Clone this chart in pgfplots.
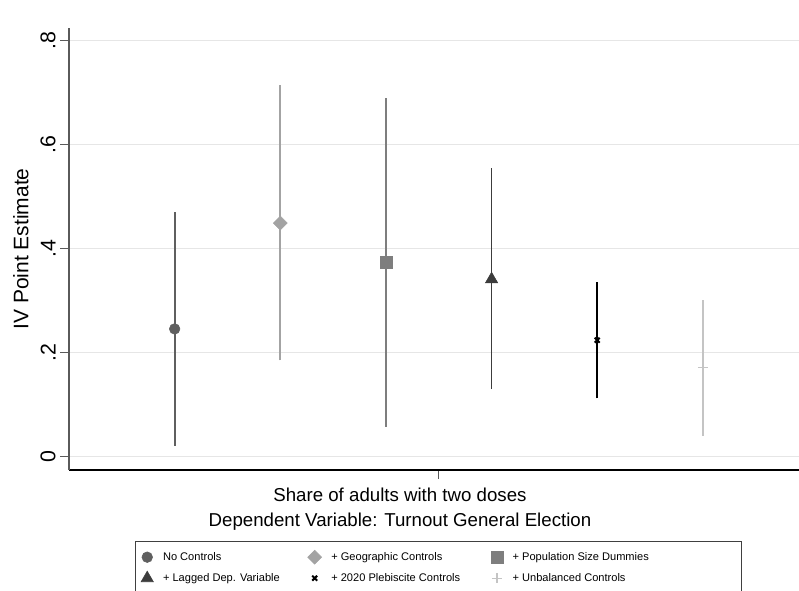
\documentclass[border=0pt]{standalone}
\usepackage{fontspec}
\setmainfont{Liberation Sans}
\usepackage{pgfplots}
\pgfplotsset{compat=1.18}
\definecolor{cA}{HTML}{5F5F5F}
\definecolor{cB}{HTML}{A3A3A3}
\definecolor{cC}{HTML}{7E7E7E}
\definecolor{cD}{HTML}{3C3C3C}
\definecolor{cE}{HTML}{000000}
\definecolor{cF}{HTML}{C4C4C4}
\definecolor{gridc}{HTML}{E6E6E6}
\definecolor{axc}{HTML}{5A5A5A}
\begin{document}
\begin{tikzpicture}
\useasboundingbox (-51.75pt,-90.75pt) rectangle (547.5pt,352.5pt);
\begin{axis}[
  scale only axis, width=547.5pt, height=331.5pt,
  xmin=0, xmax=6.91, ymin=-0.0256, ymax=0.824,
  axis x line*=bottom, axis y line*=left,
  x axis line style={-, black, line width=0.9pt},
  y axis line style={-, axc, line width=1pt},
  xtick={3.5}, xticklabels={},
  ytick={0,0.2,0.4,0.6,0.8}, yticklabels={0,.2,.4,.6,.8},
  tick align=outside, major tick length=6.5pt,
  every tick/.style={color=axc, line width=0.8pt},
  ymajorgrids, major grid style={color=gridc, line width=1pt},
  /pgf/number format/assume math mode=true,
  yticklabel style={rotate=90, anchor=south, font=\fontsize{16}{16}\selectfont},
  ylabel={IV Point Estimate},
  ylabel style={at={(axis description cs:-0.0658,0.5)}, anchor=center, font=\fontsize{15.75}{18}\selectfont},
  xlabel={Share of adults with two doses\\Dependent Variable: Turnout General Election},
  xlabel style={at={(axis description cs:0.4534,0)}, anchor=north, yshift=-10pt, align=center, font=\fontsize{14}{18.75}\selectfont},
  legend columns=3, legend cell align=left,
  legend style={at={(axis description cs:0.506,-0.1606)}, anchor=north, draw=black!75, line width=0.8pt,
    inner xsep=4.5pt, inner ysep=6pt,
    font=\fontsize{8.3}{10}\selectfont, row sep=4.25pt,
    /tikz/every odd column/.append style={column sep=5.25pt}},
]
% confidence intervals
\addplot[cA, line width=1.35pt, forget plot] coordinates {(1,0.021) (1,0.470)};
\addplot[cB, line width=1.35pt, forget plot] coordinates {(2,0.185) (2,0.714)};
\addplot[cC, line width=1.35pt, forget plot] coordinates {(3,0.058) (3,0.690)};
\addplot[cD, line width=1.35pt, forget plot] coordinates {(4,0.130) (4,0.554)};
\addplot[cE, line width=1.45pt, forget plot] coordinates {(5,0.112) (5,0.336)};
\addplot[cF, line width=1.35pt, forget plot] coordinates {(6,0.040) (6,0.301)};
% point estimates
\addplot[only marks, mark=*, mark size=4pt, mark options={solid, fill=cA, draw=cA, line width=0.4pt}]
  coordinates {(1,0.2456)};
\addlegendentry{\makebox[106.5pt][l]{No Controls}}
\addplot[only marks, mark=square*, mark size=3.7pt, mark options={solid, rotate=45, fill=cB, draw=cB, line width=0.4pt}]
  coordinates {(2,0.449)};
\addlegendentry{\makebox[117.75pt][l]{+ Geographic Controls}}
\addplot[only marks, mark=square*, mark size=4.5pt, mark options={solid, fill=cC, draw=cC, line width=0.4pt}]
  coordinates {(3,0.374)};
\addlegendentry{\makebox[165.25pt][l]{+ Population Size Dummies}}
\addplot[only marks, mark=triangle*, mark size=5.3pt, mark options={solid, fill=cD, draw=cD, line width=0.4pt}]
  coordinates {(4,0.341)};
\addlegendentry{\makebox[106.5pt][l]{+ Lagged Dep. Variable}}
\addplot[only marks, mark=x, mark size=2.6pt, mark options={solid, draw=cE, line width=1.5pt}]
  coordinates {(5,0.224)};
\addlegendentry{\makebox[117.75pt][l]{+ 2020 Plebiscite Controls}}
\addplot[only marks, mark=+, mark size=3.75pt, mark options={solid, draw=cF, line width=0.8pt}]
  coordinates {(6,0.171)};
\addlegendentry{\makebox[165.25pt][l]{+ Unbalanced Controls}}
\end{axis}
\end{tikzpicture}
\end{document}
